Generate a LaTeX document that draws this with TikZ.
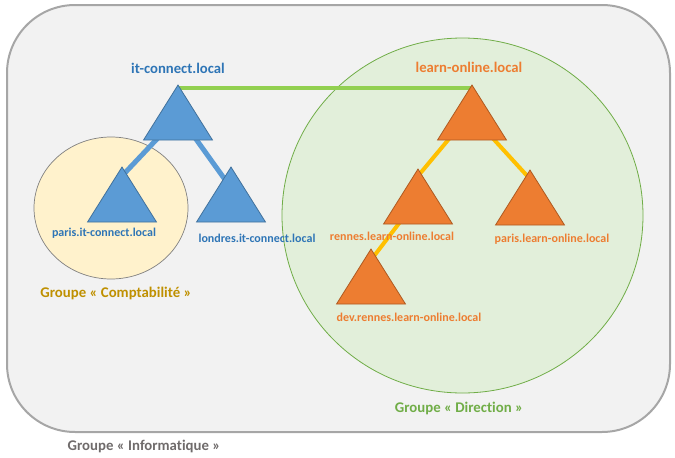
\documentclass[tikz,border=0pt]{standalone}
\usepackage{fontspec}
\setmainfont[RawFeature={-liga;-dlig}]{Carlito}
\usetikzlibrary{shapes.geometric}
\definecolor{fond}{HTML}{F2F2F2}
\definecolor{bord}{HTML}{A6A6A6}
\definecolor{jaune}{HTML}{FFF2CC}
\definecolor{vertclair}{HTML}{E2EFDA}
\definecolor{vert}{HTML}{70AD47}
\definecolor{vertlien}{HTML}{92D050}
\definecolor{bleu}{HTML}{5B9BD5}
\definecolor{bleufonce}{HTML}{41719C}
\definecolor{bleutxt}{HTML}{2E75B6}
\definecolor{orange}{HTML}{ED7D31}
\definecolor{orangefonce}{HTML}{AE5A21}
\definecolor{or}{HTML}{FFC000}
\definecolor{ocre}{HTML}{BF9000}
\definecolor{grist}{HTML}{6F6B6B}
\pgfdeclarelayer{fondlayer}
\pgfdeclarelayer{lienlayer}
\pgfsetlayers{fondlayer,lienlayer,main}
\tikzset{
  dom/.style={isosceles triangle, isosceles triangle stretches, shape border rotate=90,
    minimum width=69pt, minimum height=55pt, inner sep=0pt, anchor=apex, line width=0.8pt},
  dombleu/.style={dom, fill=bleu, draw=bleufonce},
  domorange/.style={dom, fill=orange, draw=orangefonce},
  racine/.style={font=\bfseries\fontsize{14.7}{16}\selectfont},
  sousdom/.style={font=\bfseries\fontsize{12}{14}\selectfont},
  groupe/.style={font=\bfseries\fontsize{14.8}{16}\selectfont}
}
\begin{document}
\begin{tikzpicture}[x=1pt,y=-1pt]
\useasboundingbox (0,0) rectangle (675,458);

\begin{pgfonlayer}{fondlayer}
  \draw[line width=2pt, draw=bord, fill=fond, rounded corners=68pt] (7,5) rectangle (670,432);
  \draw[fill=jaune, draw=gray, line width=0.7pt] (111,208) ellipse [x radius=77, y radius=71];
  \draw[fill=vertclair, draw=vert, line width=0.8pt] (462.5,215.5) ellipse [x radius=180.5, y radius=177.5];
\end{pgfonlayer}

\node[dombleu] (itc) at (178,84) {};
\node[dombleu] (itcparis) at (122,166) {};
\node[dombleu] (itclondres) at (231,166) {};

\node[domorange] (lo) at (472,84) {};
\node[domorange] (lorennes) at (418,168) {};
\node[domorange] (loparis) at (530,169) {};
\node[domorange] (lodev) at (371,248) {};

\begin{pgfonlayer}{lienlayer}
  \draw[vertlien, line width=4pt] ([yshift=-4pt]itc.apex) -- ([yshift=-4pt]lo.apex);
  \draw[bleu, line width=5pt] ([xshift=-4pt]itc.center) -- ([yshift=-10pt]itcparis.apex);
  \draw[bleu, line width=5pt] ([xshift=5pt]itc.center) -- ([yshift=-22pt]itclondres.apex);
  \draw[or, line width=4pt] ([xshift=-8pt]lo.center) -- ([yshift=-8pt]lorennes.apex);
  \draw[or, line width=4pt] ([xshift=5pt]lo.center) -- ([yshift=-10pt]loparis.apex);
  \draw[or, line width=4pt] ([xshift=-5pt]lorennes.center) -- ([yshift=-12pt]lodev.apex);
\end{pgfonlayer}

\node[racine, text=bleutxt] (itclbl) at (178,68) {it-connect.local};
\node[sousdom, text=bleutxt] (itcparislbl) at (104,233) {paris.it-connect.local};
\node[sousdom, text=bleutxt] (itclondreslbl) at (257,238) {londres.it-connect.local};

\node[racine, text=orange] (lolbl) at (469,67) {learn-online.local};
\node[sousdom, text=orange] (lorenneslbl) at (392,236) {rennes.learn-online.local};
\node[sousdom, text=orange] (loparislbl) at (552,239) {paris.learn-online.local};
\node[sousdom, text=orange] (lodevlbl) at (409,317) {dev.rennes.learn-online.local};

\node[groupe, text=ocre] (gcompta) at (116,293) {Groupe « Comptabilité »};
\node[groupe, text=vert] (gdir) at (459,408) {Groupe « Direction »};
\node[groupe, text=grist] (ginfo) at (144,446) {Groupe « Informatique »};
\end{tikzpicture}
\end{document}
